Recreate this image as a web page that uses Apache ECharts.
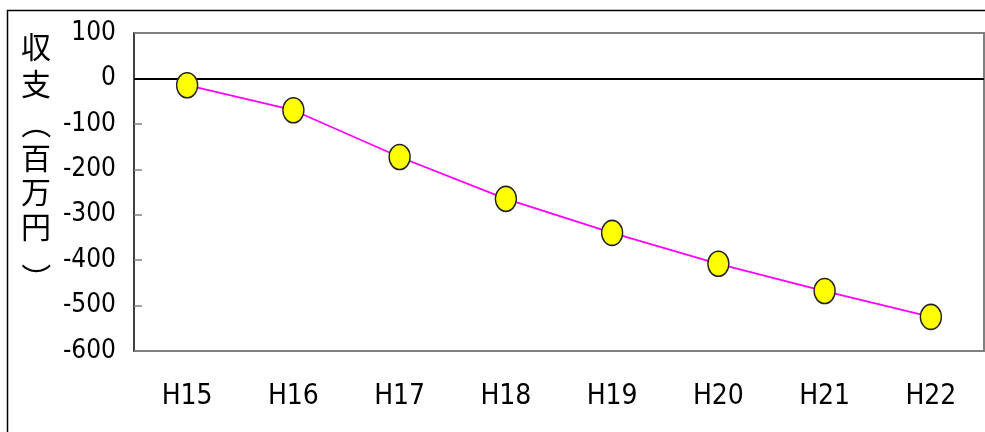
<!DOCTYPE html>
<html>
<head>
<meta charset="utf-8">
<script src="https://cdn.jsdelivr.net/npm/echarts@6/dist/echarts.min.js"></script>
<style>
html,body{margin:0;padding:0;background:#fff;}
#chart{width:985px;height:432px;}
</style>
</head>
<body>
<div id="chart"></div>
<script>
var categories = ['H15', 'H16', 'H17', 'H18', 'H19', 'H20', 'H21', 'H22'];
var balance = [-15, -70, -173, -265, -340, -408, -468, -525];
var yTicks = { min: -600, max: 100, interval: 100 };
var yTitleChars = ['収', '支', '（', '百', '万', '円', '）'];

var narrow = '"Liberation Sans Narrow", "DejaVu Sans Condensed", "Liberation Sans", sans-serif';
var cjk = '"Noto Sans CJK JP", sans-serif';

var titleY = [47, 84, 124, 158, 192, 227, 278];
function titleText(ch, x, y, size) {
  var isParen = (ch === '（' || ch === '）');
  return {
    type: 'text',
    x: x,
    y: y,
    rotation: isParen ? -Math.PI / 2 : 0,
    style: {
      text: ch,
      fontSize: size,
      fontFamily: cjk,
      fill: '#000',
      align: 'center',
      verticalAlign: 'middle'
    }
  };
}
var titleGraphics = yTitleChars.map(function (ch, i) {
  return titleText(ch, 36, titleY[i], 30);
});

var chart = echarts.init(document.getElementById('chart'), null, { renderer: 'canvas' });
chart.setOption({
  animation: false,
  backgroundColor: '#fff',
  grid: {
    left: 134, top: 33, right: 1, bottom: 81,
    show: true, borderColor: '#808080', borderWidth: 2, backgroundColor: 'transparent'
  },
  xAxis: {
    type: 'category',
    data: categories,
    boundaryGap: true,
    axisLine: { show: false },
    axisTick: { show: false },
    splitLine: { show: false },
    axisLabel: {
      margin: 32,
      fontFamily: narrow,
      fontSize: 28,
      color: '#000'
    }
  },
  yAxis: {
    type: 'value',
    min: yTicks.min,
    max: yTicks.max,
    interval: yTicks.interval,
    axisLine: { show: true, lineStyle: { color: '#404040', width: 2 } },
    axisTick: { show: true, inside: true, length: 8, lineStyle: { color: '#808080', width: 1.5 } },
    splitLine: { show: false },
    axisLabel: {
      margin: 18,
      fontFamily: narrow,
      fontSize: 26,
      color: '#000'
    }
  },
  series: [{
    type: 'line',
    data: balance,
    lineStyle: { color: '#ff00ff', width: 1.8 },
    symbol: 'circle',
    symbolSize: [21, 25],
    itemStyle: { color: '#ffff00', borderColor: '#222', borderWidth: 1.5 },
    z: 3,
    markLine: {
      silent: true,
      symbol: 'none',
      label: { show: false },
      lineStyle: { color: '#000', width: 2, type: 'solid' },
      data: [{ yAxis: 0 }],
      z: 2
    }
  }],
  graphic: [{
    type: 'rect',
    shape: { x: 7.5, y: 10.5, width: 1000, height: 440 },
    style: { fill: 'none', stroke: '#000', lineWidth: 1.5 },
    silent: true
  }].concat(titleGraphics)
});
</script>
</body>
</html>
